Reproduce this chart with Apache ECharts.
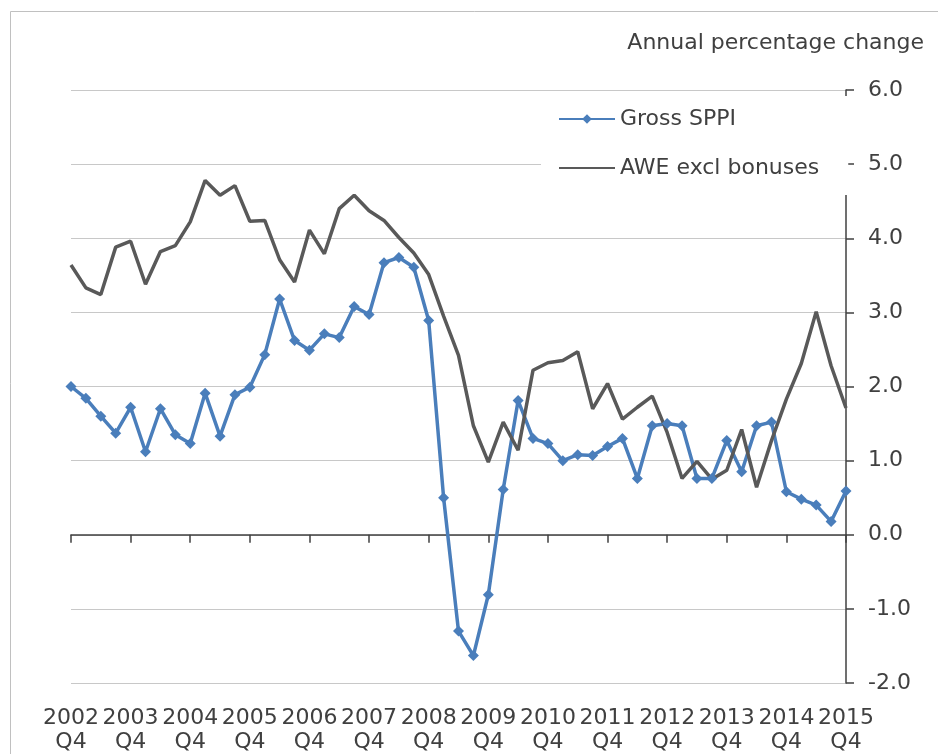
<!DOCTYPE html>
<html><head><meta charset="utf-8">
<script src="https://cdn.jsdelivr.net/npm/echarts@6/dist/echarts.min.js"></script>
<style>html,body{margin:0;padding:0;background:#fff}#c{width:938px;height:754px}</style>
</head><body><div id="c"></div>
<script>
const categories = [
  '2002 Q4',
  '2003 Q1','2003 Q2','2003 Q3','2003 Q4',
  '2004 Q1','2004 Q2','2004 Q3','2004 Q4',
  '2005 Q1','2005 Q2','2005 Q3','2005 Q4',
  '2006 Q1','2006 Q2','2006 Q3','2006 Q4',
  '2007 Q1','2007 Q2','2007 Q3','2007 Q4',
  '2008 Q1','2008 Q2','2008 Q3','2008 Q4',
  '2009 Q1','2009 Q2','2009 Q3','2009 Q4',
  '2010 Q1','2010 Q2','2010 Q3','2010 Q4',
  '2011 Q1','2011 Q2','2011 Q3','2011 Q4',
  '2012 Q1','2012 Q2','2012 Q3','2012 Q4',
  '2013 Q1','2013 Q2','2013 Q3','2013 Q4',
  '2014 Q1','2014 Q2','2014 Q3','2014 Q4',
  '2015 Q1','2015 Q2','2015 Q3','2015 Q4'
];
const grossSPPI = [
  2.00, 1.84, 1.60, 1.37, 1.72, 1.12, 1.70, 1.35, 1.23, 1.91,
  1.33, 1.89, 1.99, 2.43, 3.18, 2.62, 2.49, 2.71, 2.66, 3.08,
  2.97, 3.67, 3.74, 3.61, 2.89, 0.50, -1.30, -1.63, -0.81, 0.61,
  1.81, 1.30, 1.23, 1.00, 1.08, 1.07, 1.19, 1.30, 0.76, 1.47,
  1.50, 1.47, 0.76, 0.76, 1.27, 0.85, 1.47, 1.52, 0.58, 0.48,
  0.40, 0.18, 0.59
];
const aweExclBonuses = [
  3.64, 3.33, 3.24, 3.88, 3.96, 3.38, 3.82, 3.90, 4.22, 4.78,
  4.58, 4.71, 4.23, 4.24, 3.71, 3.41, 4.11, 3.79, 4.40, 4.58,
  4.37, 4.24, 4.01, 3.80, 3.51, 2.95, 2.42, 1.47, 0.98, 1.52,
  1.14, 2.22, 2.32, 2.35, 2.47, 1.70, 2.04, 1.56, 1.72, 1.87,
  1.38, 0.76, 0.99, 0.75, 0.87, 1.42, 0.64, 1.27, 1.83, 2.31,
  3.01, 2.28, 1.71
];
const seriesNames = ['Gross SPPI', 'AWE excl bonuses'];
const yAxisTitle = 'Annual percentage change';

const FONT = 'DejaVu Sans';
const TXT = '#404040';
const chart = echarts.init(document.getElementById('c'), null, {renderer: 'canvas'});
chart.setOption({
  animation: false,
  backgroundColor: '#fff',
  textStyle: {fontFamily: FONT},
  grid: {left: 71, right: 92, top: 90, bottom: 71, containLabel: false, outerBoundsMode: 'none'},
  graphic: [
    {type: 'rect', silent: true, z: -1,
     shape: {x: 10.5, y: 11.5, width: 1000, height: 1000},
     style: {fill: 'none', stroke: '#c0c0c0', lineWidth: 1}},
    {type: 'text', silent: true,
     style: {x: 924, y: 43, text: yAxisTitle, align: 'right', verticalAlign: 'middle',
             font: '22px "DejaVu Sans"', fill: TXT}}
  ],
  legend: {
    left: 541, top: 96, orient: 'vertical', backgroundColor: '#fff',
    padding: [12, 29, 16, 17], itemGap: 27, itemWidth: 56, itemHeight: 12,
    textStyle: {fontSize: 22, color: TXT, fontFamily: FONT},
    data: [
      {name: seriesNames[0]},
      {name: seriesNames[1], itemStyle: {opacity: 0}}
    ],
    z: 5
  },
  xAxis: {
    type: 'category', data: categories, boundaryGap: false,
    axisLine: {onZero: true, lineStyle: {color: '#404040', width: 1.5}},
    axisTick: {interval: 3, length: 8, lineStyle: {color: '#404040', width: 1.5}},
    axisLabel: {interval: 3, margin: 23, fontSize: 22, lineHeight: 24, color: TXT,
                formatter: v => v.replace(' ', '\n')},
    splitLine: {show: false}
  },
  yAxis: {
    type: 'value', position: 'right', min: -2, max: 6, interval: 1,
    axisLine: {show: true, lineStyle: {color: '#404040', width: 1.5}},
    axisTick: {show: true, length: 8, lineStyle: {color: '#404040', width: 1.5}},
    axisLabel: {margin: 22, fontSize: 22, color: TXT, formatter: v => v.toFixed(1)},
    splitLine: {lineStyle: {color: '#c8c8c8', width: 1.2}}
  },
  series: [
    {name: seriesNames[0], type: 'line', data: grossSPPI, color: '#4a7ebb',
     lineStyle: {width: 3.5}, symbol: 'diamond', symbolSize: 11, showSymbol: true,
     showAllSymbol: true, itemStyle: {color: '#4a7ebb'}},
    {name: seriesNames[1], type: 'line', data: aweExclBonuses, color: '#595959',
     lineStyle: {width: 3.5}, symbol: 'none'}
  ]
});
</script></body></html>
